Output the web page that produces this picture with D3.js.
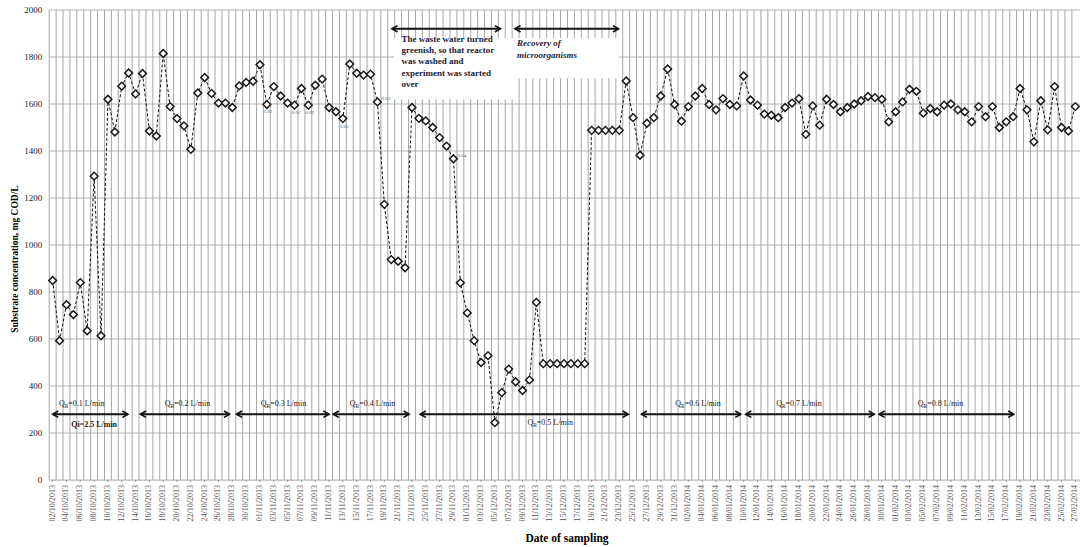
<!DOCTYPE html>
<html>
<head>
<meta charset="utf-8">
<script src="https://cdn.jsdelivr.net/npm/d3@7"></script>
<style>
  body { margin: 0; background: #fff; }
  svg text { font-family: "Liberation Serif", "Times New Roman", serif; }
</style>
</head>
<body>
<svg id="chart"></svg>
<script>
// substrate concentration, mg COD/L, one value per sampling
const concentration = [
  849, 593, 746, 704, 840, 635, 1293, 614, 1620, 1481,
  1676, 1732, 1643, 1730, 1485, 1464, 1815, 1589, 1538, 1507,
  1407, 1647, 1713, 1645, 1604, 1604, 1585, 1677, 1692, 1697,
  1767, 1598, 1674, 1634, 1604, 1595, 1666, 1595, 1680, 1706,
  1585, 1567, 1538, 1770, 1731, 1723, 1727, 1609, 1173, 938,
  931, 903, 1585, 1539, 1528, 1500, 1457, 1421, 1367, 839,
  711, 593, 500, 529, 244, 372, 472, 418, 381, 426,
  756, 495, 495, 495, 495, 495, 495, 495, 1488, 1488,
  1488, 1488, 1488, 1698, 1542, 1382, 1518, 1542, 1634, 1749,
  1598, 1527, 1589, 1634, 1666, 1598, 1575, 1623, 1598, 1592,
  1719, 1617, 1595, 1557, 1552, 1542, 1585, 1604, 1623, 1471,
  1592, 1510, 1620, 1598, 1567, 1585, 1600, 1614, 1632, 1627,
  1620, 1524, 1567, 1609, 1663, 1654, 1561, 1581, 1567, 1595,
  1600, 1575, 1567, 1524, 1589, 1546, 1589, 1500, 1524, 1546,
  1666, 1575, 1439, 1614, 1490, 1674, 1500, 1485, 1589
];

// one label for every second sampling
const dateLabels = [
  "02/10/2013", "04/10/2013", "06/10/2013", "08/10/2013", "10/10/2013", "12/10/2013", "14/10/2013", "16/10/2013",
  "18/10/2013", "20/10/2013", "22/10/2013", "24/10/2013", "26/10/2013", "28/10/2013", "30/10/2013",
  "01/11/2013", "03/11/2013", "05/11/2013", "07/11/2013", "09/11/2013", "11/11/2013", "13/11/2013", "15/11/2013",
  "17/11/2013", "19/11/2013", "21/11/2013", "23/11/2013", "25/11/2013", "27/11/2013", "29/11/2013",
  "01/12/2013", "03/12/2013", "05/12/2013", "07/12/2013", "09/12/2013", "11/12/2013", "13/12/2013", "15/12/2013",
  "17/12/2013", "19/12/2013", "21/12/2013", "23/12/2013", "25/12/2013", "27/12/2013", "29/12/2013", "31/12/2013",
  "02/01/2014", "04/01/2014", "06/01/2014", "08/01/2014", "10/01/2014", "12/01/2014", "14/01/2014", "16/01/2014",
  "18/01/2014", "20/01/2014", "22/01/2014", "24/01/2014", "26/01/2014", "28/01/2014", "30/01/2014",
  "01/02/2014", "03/02/2014", "05/02/2014", "07/02/2014", "09/02/2014", "11/02/2014", "13/02/2014", "15/02/2014",
  "17/02/2014", "19/02/2014", "21/02/2014", "23/02/2014", "25/02/2014", "27/02/2014"
];

const yTicks = [0, 200, 400, 600, 800, 1000, 1200, 1400, 1600, 1800, 2000];

// recirculation flow periods (sampling index from / to)
const flowRates = ["0.1", "0.2", "0.3", "0.4", "0.5", "0.6", "0.7", "0.8"];
const flowFrom = [0, 12.7, 26.6, 40.6, 53.2, 85.2, 100.3, 119.6];
const flowTo = [10.9, 25.6, 40.0, 51.6, 83.3, 99.6, 118.9, 139.1];
const flowLabelAt = [4.2, 19.5, 33.4, 46.3, 72.0, 93.4, 108.0, 128.5];
const flowLabelBelow = [false, false, false, false, true, false, false, false];

// small value labels next to some points
const noteIndex = [31, 35, 37, 42, 47, 58];
const noteText = ["0.01", "0.01", "0.02", "0.02", "0.03", "0.04"];

const washText = ["The waste water turned", "greenish, so that reactor", "was washed and", "experiment was started", "over"];
const recoveryText = ["Recovery of", "microorganisms"];

const width = 1080, height = 547;
const svg = d3.select("#chart").attr("width", width).attr("height", height);

const x = d3.scaleBand()
  .domain(d3.range(concentration.length))
  .range([49.2, 49.2 + concentration.length * 6.91])
  .paddingInner(0).paddingOuter(0);
const y = d3.scaleLinear().domain([0, 2000]).range([480, 10]);

function xAt(i) {
  return x(0) + x.bandwidth() / 2 + i * x.step();
}

// grid
svg.append("g")
  .selectAll("line")
  .data(yTicks)
  .join("line")
  .attr("x1", x(0)).attr("x2", width)
  .attr("y1", d => y(d)).attr("y2", d => y(d))
  .attr("stroke", "#b4b4b4").attr("stroke-width", 1.2);

svg.append("g")
  .selectAll("line")
  .data(d3.range(concentration.length))
  .join("line")
  .attr("x1", d => x(d)).attr("x2", d => x(d))
  .attr("y1", y(2000)).attr("y2", y(0))
  .attr("stroke", "#a6a6a6").attr("stroke-width", 1);

// white boxes behind the notes
svg.append("rect")
  .attr("x", xAt(49.4)).attr("width", xAt(66.9) - xAt(49.4))
  .attr("y", y(1880)).attr("height", y(1620) - y(1880))
  .attr("fill", "#fff");
svg.append("rect")
  .attr("x", xAt(66.6)).attr("width", xAt(81.9) - xAt(66.6))
  .attr("y", y(1880)).attr("height", y(1710) - y(1880))
  .attr("fill", "#fff");

// axes
const yAxis = svg.append("g")
  .attr("transform", `translate(${x(0)},0)`)
  .call(d3.axisLeft(y).tickValues(yTicks).tickFormat(d3.format("d")).tickSize(0).tickPadding(7));
yAxis.select(".domain").remove();
yAxis.selectAll("text").style("font-size", "9px").attr("fill", "#222");

const xAxis = svg.append("g")
  .attr("transform", `translate(0,${y(0)})`)
  .call(d3.axisBottom(x)
    .tickValues(d3.range(0, concentration.length, 2))
    .tickFormat(d => dateLabels[d / 2])
    .tickSize(2));
xAxis.select(".domain").attr("stroke", "#c8c8c8");
xAxis.selectAll(".tick line").attr("stroke", "#999");
xAxis.selectAll("text")
  .style("font-size", "8px")
  .attr("fill", "#555")
  .attr("text-anchor", "end")
  .attr("transform", "rotate(-90)")
  .attr("x", -5).attr("y", 0).attr("dy", "0.25em");

svg.append("text")
  .attr("transform", `translate(18,${(y(0) + y(2000)) / 2 + 14}) rotate(-90)`)
  .attr("text-anchor", "middle")
  .style("font-size", "9.5px").style("font-weight", "bold")
  .text("Substrate concentration, mg COD/L");

svg.append("text")
  .attr("x", 567).attr("y", 542)
  .attr("text-anchor", "middle")
  .style("font-size", "11.5px").style("font-weight", "bold")
  .text("Date of sampling");

// arrow heads
const defs = svg.append("defs");
defs.append("marker")
  .attr("id", "head")
  .attr("viewBox", "0 -5 10 10")
  .attr("refX", 8).attr("refY", 0)
  .attr("markerWidth", 4).attr("markerHeight", 4)
  .attr("markerUnits", "strokeWidth")
  .attr("orient", "auto-start-reverse")
  .append("path")
  .attr("d", "M1,-4L8,0L1,4")
  .attr("fill", "none").attr("stroke", "#111").attr("stroke-width", 2);

function arrow(i0, i1, v) {
  svg.append("line")
    .attr("x1", xAt(i0)).attr("x2", xAt(i1))
    .attr("y1", y(v)).attr("y2", y(v))
    .attr("stroke", "#111").attr("stroke-width", 2)
    .attr("marker-start", "url(#head)").attr("marker-end", "url(#head)");
}

// flow periods
flowRates.forEach(function(rate, k) {
  arrow(flowFrom[k], flowTo[k], 280);
  let t = svg.append("text")
    .attr("x", xAt(flowLabelAt[k]))
    .attr("y", y(flowLabelBelow[k] ? 236 : 316))
    .attr("text-anchor", "middle")
    .style("font-size", "8px").attr("fill", "#222");
  t.append("tspan").text("Q");
  t.append("tspan").attr("dy", 2).style("font-size", "5.5px").text("R");
  t.append("tspan").attr("dy", -2).text("=" + rate + " L/min");
});
svg.append("text")
  .attr("x", xAt(6.0)).attr("y", y(226))
  .attr("text-anchor", "middle")
  .style("font-size", "8px").style("font-weight", "bold").attr("fill", "#222")
  .text("Qi=2.5 L/min");

// top notes
arrow(49.1, 64.8, 1920);
arrow(66.9, 81.9, 1920);

svg.append("g")
  .selectAll("text")
  .data(washText)
  .join("text")
  .attr("x", xAt(50.5))
  .attr("y", (d, i) => y(1865) + i * 11.3)
  .style("font-size", "9px").style("font-weight", "bold")
  .attr("fill", "#1c1c34")
  .text(d => d);

svg.append("g")
  .selectAll("text")
  .data(recoveryText)
  .join("text")
  .attr("x", xAt(67.2))
  .attr("y", (d, i) => y(1845) + i * 11.5)
  .style("font-size", "9px").style("font-weight", "bold").style("font-style", "italic")
  .attr("fill", "#1c1c34")
  .text(d => d);

// series
const line = d3.line()
  .x((d, i) => xAt(i))
  .y(d => y(d));

svg.append("path")
  .datum(concentration)
  .attr("d", line)
  .attr("fill", "none")
  .attr("stroke", "#111")
  .attr("stroke-width", 1)
  .attr("stroke-dasharray", "3,2");

const diamond = d3.symbol(d3.symbolSquare, 30);
svg.append("g")
  .selectAll("path")
  .data(concentration)
  .join("path")
  .attr("d", diamond)
  .attr("transform", (d, i) => `translate(${xAt(i)},${y(d)}) rotate(45)`)
  .attr("fill", "#fff")
  .attr("stroke", "#1a1a1a")
  .attr("stroke-width", 1.5);

// tiny point notes
svg.append("g")
  .selectAll("text")
  .data(noteIndex)
  .join("text")
  .attr("x", (d, i) => i >= 4 ? xAt(d) + 4 : xAt(d) - 3)
  .attr("y", (d, i) => i >= 4 ? y(concentration[d]) - 2 : y(concentration[d]) + 9)
  .style("font-size", "5px")
  .attr("fill", "#4a5f8a")
  .text((d, i) => noteText[i]);
</script>
</body>
</html>
